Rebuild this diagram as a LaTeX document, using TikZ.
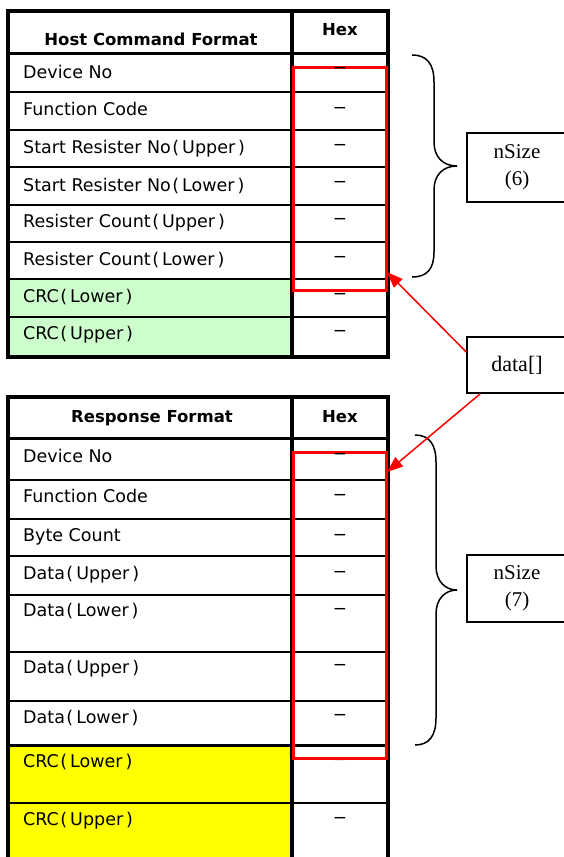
\documentclass[tikz,border=0pt]{standalone}
\usepackage{fontspec}
\setmainfont{Liberation Serif}
\newfontfamily\gothic{DejaVu Sans}
\usetikzlibrary{arrows.meta}
\newcommand{\lpar}{\kern1.5pt(\kern3pt}
\newcommand{\rpar}{\kern3pt)}
\definecolor{crcgreen}{RGB}{204,255,204}
\definecolor{crcyellow}{RGB}{255,255,0}

\begin{document}
\begin{tikzpicture}[
x=1pt, y=-1pt,
field/.style={anchor=base west, inner sep=0pt, font=\gothic\fontsize{17.5}{20}\selectfont},
hexval/.style={anchor=base, inner sep=0pt, font=\gothic\fontsize{17}{20}\selectfont},
hdr/.style={anchor=base, inner sep=0pt, font=\gothic\bfseries\fontsize{16.5}{20}\selectfont},
border/.style={line width=4.5pt},
rowline/.style={line width=2pt},
redbox/.style={draw=red, line width=3pt},
sizebox/.style={draw, line width=1.5pt, minimum width=100pt, align=center,
                font=\fontsize{21}{27}\selectfont},
callout/.style={red, line width=1.5pt, -{Triangle[length=16pt,width=12pt]}},
bracepath/.style={line width=1.5pt}
]
\useasboundingbox (0,0) rectangle (564,857);
\clip (0,0) rectangle (564,857);

% host command table
\fill[crcgreen] (8,279) rectangle (292,357);
\foreach \y in {92,130,167,205,242,279,317}
  \draw[rowline] (8,\y) -- (388,\y);
\draw[rowline, line width=3pt] (8,53) -- (388,53);
\draw[border] (292,11) -- (292,357);
\draw[border] (8,11) rectangle (388,357);

\node[hdr] (cmdhead) at (151,45) {Host Command Format};
\node[hdr] (cmdhex) at (340,35) {Hex};
\foreach \yb/\txt [count=\i] in {78/Device No, 115/Function Code,
    153/Start Resister No\lpar Upper\rpar, 191/Start Resister No\lpar Lower\rpar,
    227/Resister Count\lpar Upper\rpar, 265/Resister Count\lpar Lower\rpar,
    302/CRC\lpar Lower\rpar, 339/CRC\lpar Upper\rpar}
  \node[field] (cmd\i) at (23,\yb) {\txt};

% response table
\fill[crcyellow] (8,745) rectangle (292,870);
\foreach \y in {480,519,556,595,652,701,803}
  \draw[rowline] (8,\y) -- (388,\y);
\draw[rowline, line width=3pt] (8,438) -- (388,438);
\draw[rowline, line width=3pt] (8,745) -- (388,745);
\draw[border] (292,397) -- (292,870);
\draw[border] (8,870) -- (8,397) -- (388,397) -- (388,870);

\node[hdr] (rsphead) at (152,422) {Response Format};
\node[hdr] (rsphex) at (340,422) {Hex};
\foreach \yb/\txt [count=\i] in {462/Device No, 502/Function Code, 541/Byte Count,
    579/Data\lpar Upper\rpar, 616/Data\lpar Lower\rpar, 673/Data\lpar Upper\rpar,
    723/Data\lpar Lower\rpar, 767/CRC\lpar Lower\rpar, 825/CRC\lpar Upper\rpar}
  \node[field] (rsp\i) at (23,\yb) {\txt};
\node[hexval, gray!40] (rspval9) at (340,765) {−};

% data[] ranges
\draw[redbox] (293,67) rectangle (386,290);
\draw[redbox] (293,452) rectangle (386,758);
\coordinate (cmdtip) at (387,272);
\coordinate (rsptip) at (387,472);

% hex values
\foreach \yb [count=\i] in {73.5,113.5,150.5,187.5,224.5,262.5,299.5,336.5}
  \node[hexval] (cmdval\i) at (340,\yb) {−};
\foreach \yb [count=\i] in {459.5,500.5,540.5,577.5,614.5,670.5,720.5,823.5}
  \node[hexval] (rspval\i) at (340,\yb) {−};

% braces
\draw[bracepath] (412,55) .. controls (427,55) and (434,64) .. (434,82) -- (434,142)
  .. controls (434,157) and (443,166) .. (457,166)
  .. controls (443,166) and (434,175) .. (434,190) -- (434,252)
  .. controls (434,269) and (427,277) .. (412,277);
\draw[bracepath] (415,435) .. controls (429,435) and (436,444) .. (436,462) -- (436,566)
  .. controls (436,581) and (445,590) .. (457,590)
  .. controls (445,590) and (436,599) .. (436,614) -- (436,718)
  .. controls (436,736) and (429,745) .. (415,745);

% sizes
\node[sizebox, minimum height=69pt] (cmdsize) at (517,167.5) {nSize\\(6)};
\node[sizebox, minimum height=67pt] (rspsize) at (517,588.5) {nSize\\(7)};
\node[sizebox, minimum height=56pt, font=\fontsize{22}{27}\selectfont] (data) at (517,365) {data[]};

\draw[callout] ([yshift=13pt]data.west) -- (cmdtip);
\draw[callout] ([xshift=14pt]data.south west) -- (rsptip);

\end{tikzpicture}
\end{document}
